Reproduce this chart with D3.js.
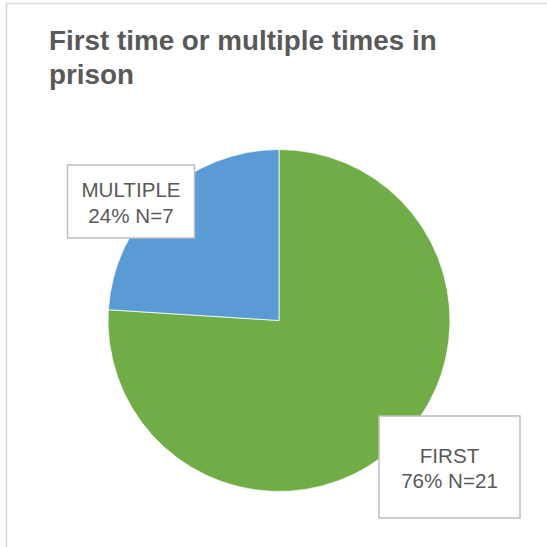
<!DOCTYPE html>
<html lang="en">
<head>
    <meta charset="UTF-8">
    <title>First time or multiple times in prison</title>
    <script src="https://d3js.org/d3.v7.min.js"></script>
    <style>
        body { margin: 0; background: #fff; }
        .title { font: bold 27.8px "Liberation Sans", Arial, sans-serif; fill: #595959; }
        .lbl text { font: 20.6px "Liberation Sans", Arial, sans-serif; fill: #595959; }
        .lbl rect { fill: #fff; stroke: #bfbfbf; stroke-width: 1.5px; }
    </style>
</head>
<body>
    <script>
        // chart data
        var categories = ["FIRST", "MULTIPLE"];
        var percents = [76, 24];
        var counts = [21, 7];
        var colors = ["#70ad47", "#5b9bd5"];

        var width = 547, height = 547;
        var cx = 279, cy = 320.5, radius = 171;

        var svg = d3.select("body")
            .append("svg")
            .attr("width", width)
            .attr("height", height);

        // chart area frame (only top/left edges are visible)
        svg.append("rect")
            .attr("x", 6.5)
            .attr("y", 3.5)
            .attr("width", 600)
            .attr("height", 600)
            .attr("fill", "#fff")
            .attr("stroke", "#d9d9d9")
            .attr("stroke-width", 1.5);

        // title
        var title = svg.append("text")
            .attr("class", "title")
            .attr("x", 49)
            .attr("y", 50);
        title.append("tspan").attr("x", 49).text("First time or multiple times in");
        title.append("tspan").attr("x", 49).attr("dy", 34).text("prison");

        // pie
        var data = categories.map(function (c, i) {
            return { name: c, pct: percents[i], n: counts[i], color: colors[i] };
        });

        var pie = d3.pie()
            .sort(null)
            .value(function (d) { return d.pct; });

        var arc = d3.arc()
            .innerRadius(0)
            .outerRadius(radius);

        var g = svg.append("g")
            .attr("transform", "translate(" + cx + "," + cy + ")");

        var arcs = pie(data);

        g.selectAll("path")
            .data(arcs)
            .enter()
            .append("path")
            .attr("d", arc)
            .attr("fill", function (d) { return d.data.color; })
            .attr("stroke", "#fff")
            .attr("stroke-width", 0.75);

        // data labels (boxes placed outside the slices, Excel style)
        var boxes = [
            { dx: 170.5, dy: 146.5, w: 141, h: 102 },
            { dx: -148, dy: -119, w: 127, h: 73 }
        ];

        var lbl = g.selectAll(".lbl")
            .data(arcs)
            .enter()
            .append("g")
            .attr("class", "lbl")
            .attr("transform", function (d, i) {
                return "translate(" + boxes[i].dx + "," + boxes[i].dy + ")";
            });

        lbl.append("rect")
            .attr("x", function (d, i) { return -boxes[i].w / 2; })
            .attr("y", function (d, i) { return -boxes[i].h / 2; })
            .attr("width", function (d, i) { return boxes[i].w; })
            .attr("height", function (d, i) { return boxes[i].h; });

        lbl.append("text")
            .attr("text-anchor", "middle")
            .attr("y", -4.5)
            .text(function (d) { return d.data.name; });

        lbl.append("text")
            .attr("text-anchor", "middle")
            .attr("y", 21)
            .text(function (d) { return d.data.pct + "% N=" + d.data.n; });
    </script>
</body>
</html>
